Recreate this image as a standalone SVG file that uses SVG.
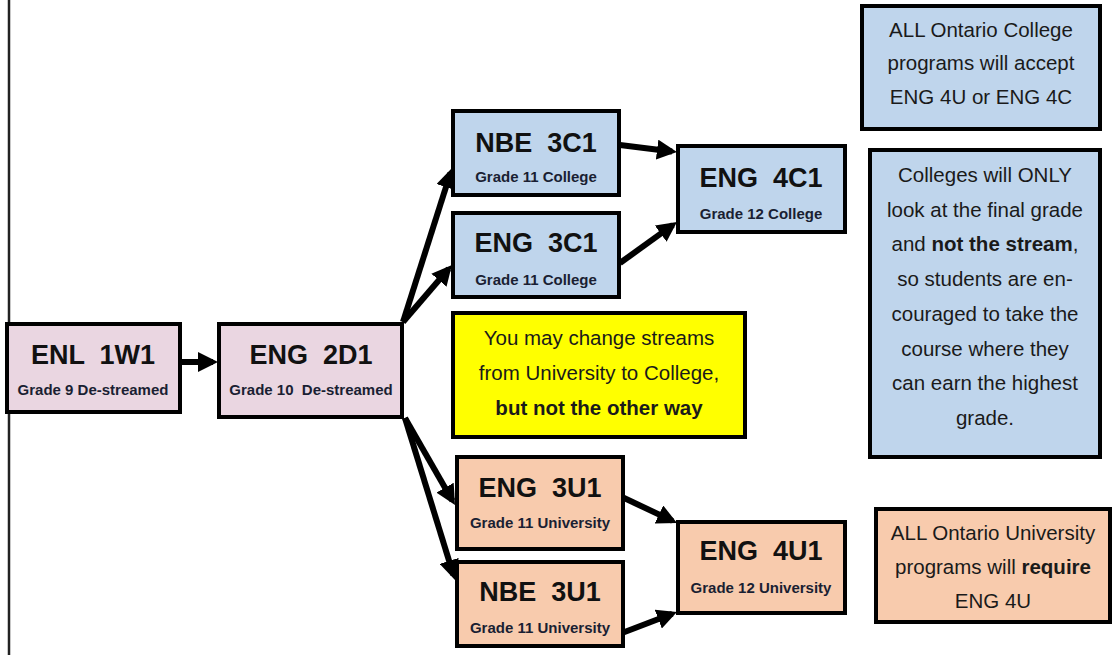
<svg xmlns="http://www.w3.org/2000/svg" width="1112" height="655" viewBox="0 0 1112 655">
<style>
.box{stroke:#000;stroke-width:4}
.pink{fill:#EAD6E1}.blue{fill:#BFD5EC}.orange{fill:#F8CBAD}.yellow{fill:#FFFF00}
.t{font-family:"Liberation Sans",Arial,sans-serif;font-weight:bold;font-size:27px;fill:#111;text-anchor:middle;white-space:pre}
.s{font-family:"Liberation Sans",Arial,sans-serif;font-weight:bold;font-size:15px;fill:#1a1f33;text-anchor:middle;white-space:pre}
.n{font-family:"Liberation Sans",Arial,sans-serif;font-size:20.5px;fill:#1a1a1a;text-anchor:middle}
.n tspan.b{font-weight:bold}
.c{stroke:#000;stroke-width:6;fill:none;marker-end:url(#ah)}
</style>
<defs>
<marker id="ah" markerUnits="userSpaceOnUse" markerWidth="20" markerHeight="20" refX="15" refY="10" orient="auto">
<path d="M0,0 L20,10 L0,20 z" fill="#000"/>
</marker>
</defs>
<rect width="1112" height="655" fill="#fff"/>
<line x1="9" y1="0" x2="9" y2="655" stroke="#222" stroke-width="2.5"/>

<g id="connectors">
<line class="c" x1="180" y1="362" x2="213" y2="362"/>
<line class="c" x1="403" y1="322" x2="450.5" y2="172.8"/>
<line class="c" x1="403" y1="322" x2="448.7" y2="268.8"/>
<line class="c" x1="405" y1="418" x2="452.5" y2="500.7"/>
<line class="c" x1="405" y1="418" x2="453.5" y2="575.2"/>
<line class="c" x1="620" y1="145" x2="672" y2="151.4"/>
<line class="c" x1="620" y1="263" x2="672.9" y2="224.9"/>
<line class="c" x1="622" y1="497" x2="672.5" y2="520.9"/>
<line class="c" x1="622" y1="633" x2="672.3" y2="613.8"/>
</g>

<g id="enl1w1">
<rect class="box pink" x="7" y="324" width="173" height="88"/>
<text class="t" x="93" y="364" xml:space="preserve">ENL  1W1</text>
<text class="s" x="93" y="395">Grade 9 De-streamed</text>
</g>
<g id="eng2d1">
<rect class="box pink" x="219" y="324" width="183" height="93"/>
<text class="t" x="311" y="364" xml:space="preserve">ENG  2D1</text>
<text class="s" x="311" y="395" xml:space="preserve">Grade 10  De-streamed</text>
</g>
<g id="nbe3c1">
<rect class="box blue" x="453" y="111" width="166" height="84"/>
<text class="t" x="536" y="152" xml:space="preserve">NBE  3C1</text>
<text class="s" x="536" y="182">Grade 11 College</text>
</g>
<g id="eng3c1">
<rect class="box blue" x="453" y="213" width="166" height="84"/>
<text class="t" x="536" y="252" xml:space="preserve">ENG  3C1</text>
<text class="s" x="536" y="285">Grade 11 College</text>
</g>
<g id="eng4c1">
<rect class="box blue" x="678" y="146" width="167" height="86"/>
<text class="t" x="761" y="187" xml:space="preserve">ENG  4C1</text>
<text class="s" x="761" y="219">Grade 12 College</text>
</g>
<g id="note-streams">
<rect class="box yellow" x="453" y="313" width="292" height="124"/>
<text class="n" x="599" y="345">You may change streams</text>
<text class="n" x="599" y="380">from University to College,</text>
<text class="n" x="599" y="415"><tspan class="b">but not the other way</tspan></text>
</g>
<g id="eng3u1">
<rect class="box orange" x="457" y="457" width="166" height="92"/>
<text class="t" x="540" y="497" xml:space="preserve">ENG  3U1</text>
<text class="s" x="540" y="528">Grade 11 University</text>
</g>
<g id="nbe3u1">
<rect class="box orange" x="457" y="562" width="166" height="84"/>
<text class="t" x="540" y="601" xml:space="preserve">NBE  3U1</text>
<text class="s" x="540" y="633">Grade 11 University</text>
</g>
<g id="eng4u1">
<rect class="box orange" x="678" y="522" width="167" height="91"/>
<text class="t" x="761" y="560" xml:space="preserve">ENG  4U1</text>
<text class="s" x="761" y="593">Grade 12 University</text>
</g>
<g id="note-college">
<rect class="box blue" x="862" y="6" width="238" height="123"/>
<text class="n" x="981" y="37">ALL Ontario College</text>
<text class="n" x="981" y="70">programs will accept</text>
<text class="n" x="981" y="104">ENG 4U or ENG 4C</text>
</g>
<g id="note-grade">
<rect class="box blue" x="870" y="150" width="230" height="307"/>
<text class="n" x="985" y="182">Colleges will ONLY</text>
<text class="n" x="985" y="217">look at the final grade</text>
<text class="n" x="985" y="251">and <tspan class="b">not the stream</tspan>,</text>
<text class="n" x="985" y="286">so students are en-</text>
<text class="n" x="985" y="321">couraged to take the</text>
<text class="n" x="985" y="356">course where they</text>
<text class="n" x="985" y="390">can earn the highest</text>
<text class="n" x="985" y="425">grade.</text>
</g>
<g id="note-university">
<rect class="box orange" x="876" y="509" width="234" height="113"/>
<text class="n" x="993" y="540">ALL Ontario University</text>
<text class="n" x="993" y="574">programs will <tspan class="b">require</tspan></text>
<text class="n" x="993" y="608">ENG 4U</text>
</g>
</svg>
